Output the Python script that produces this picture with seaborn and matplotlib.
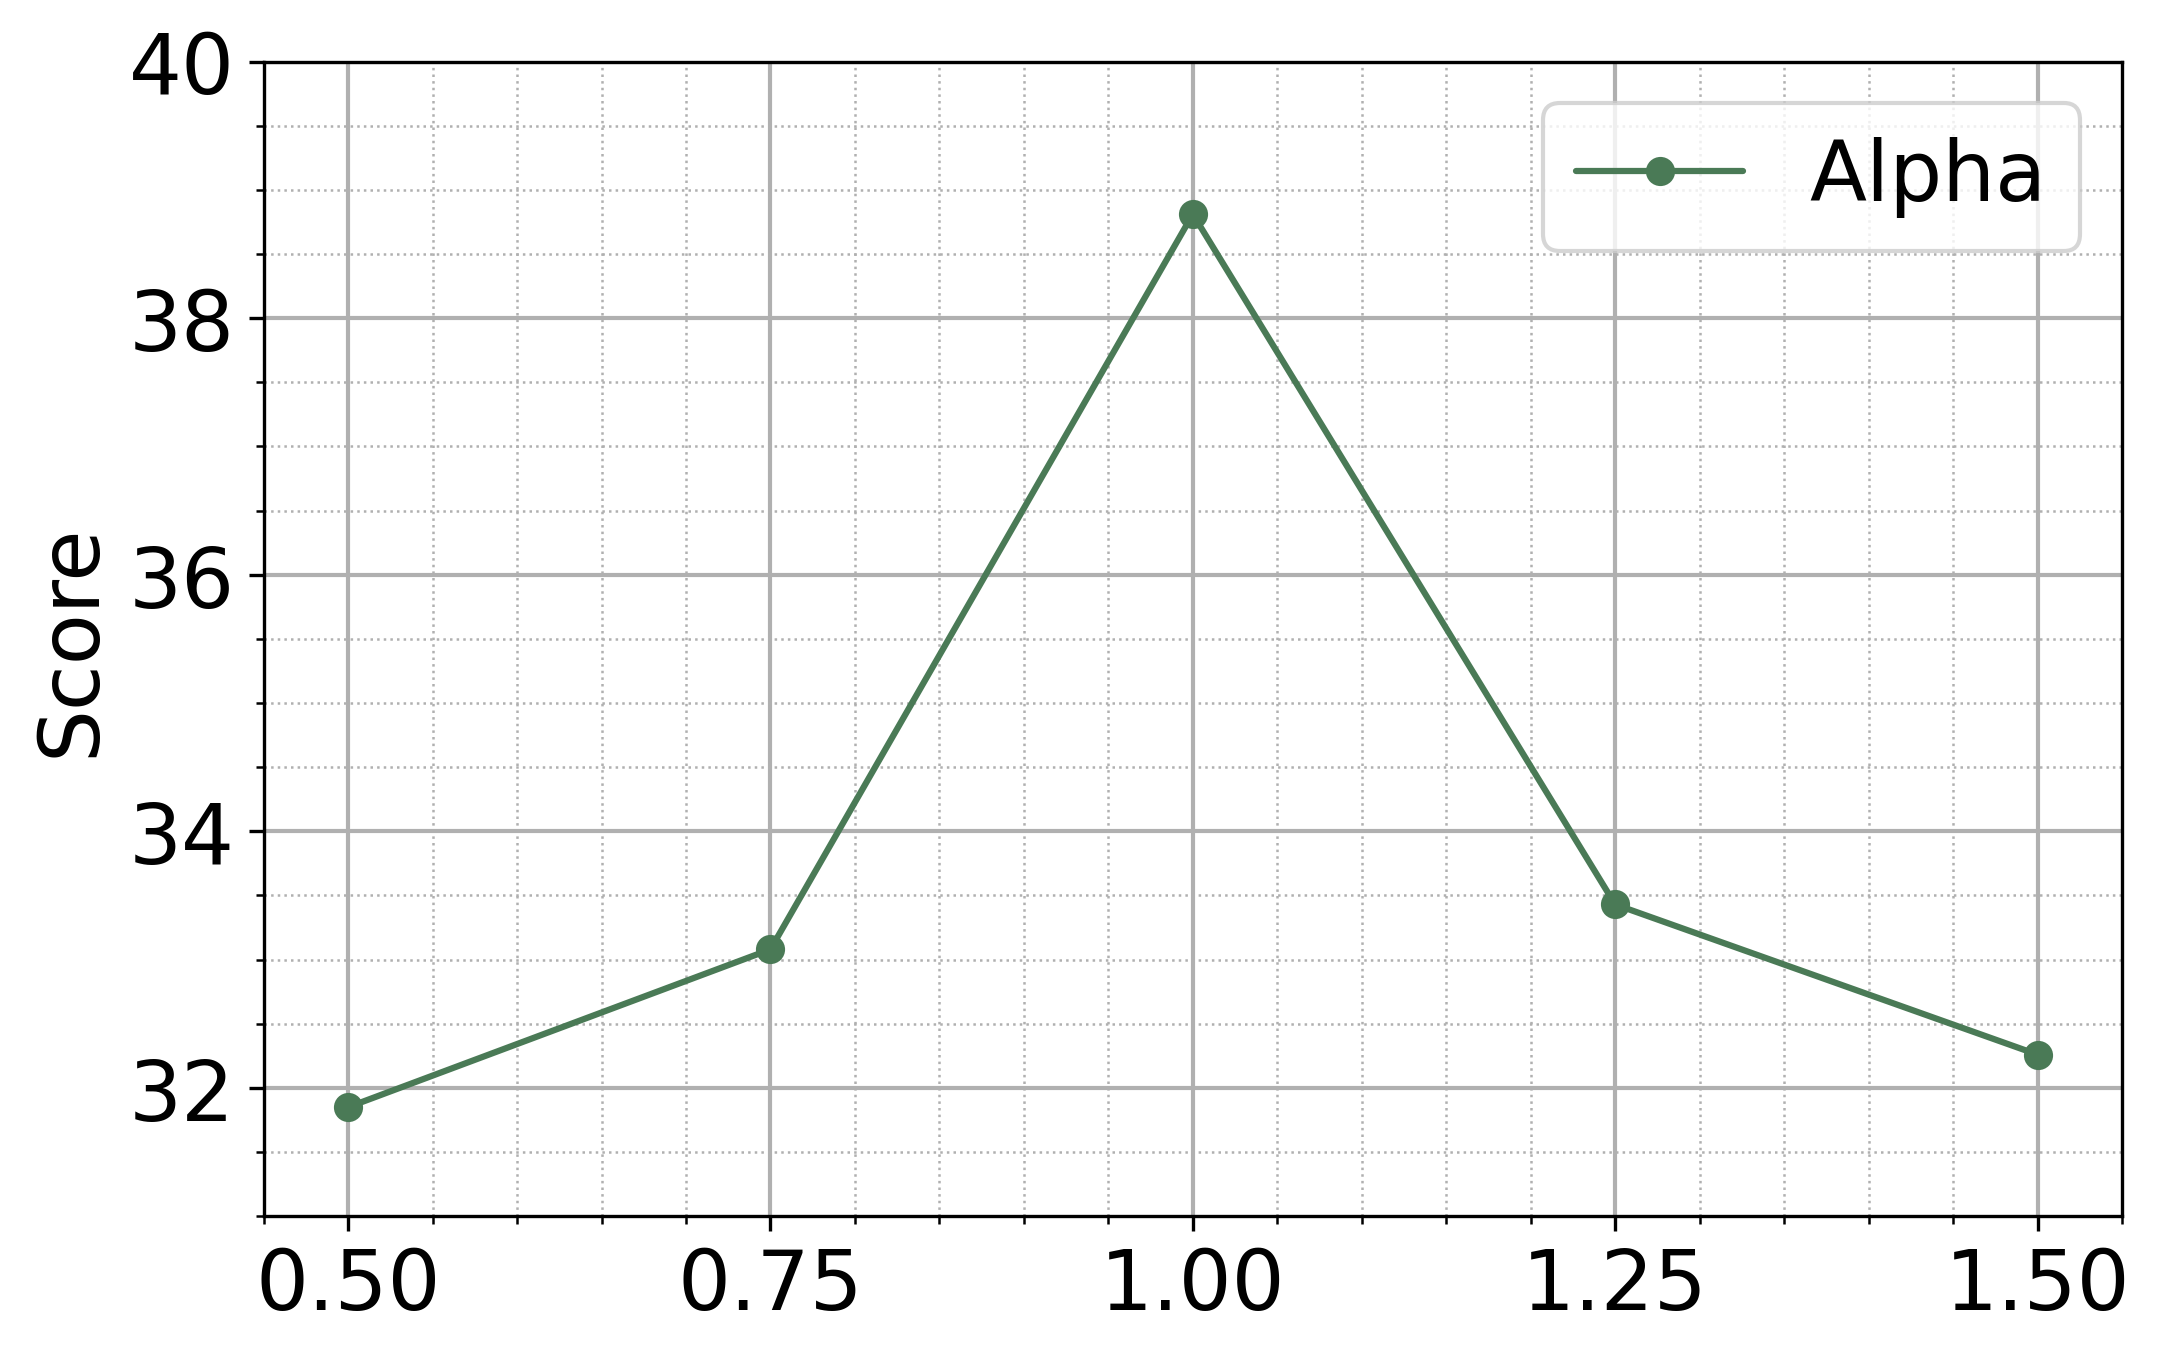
"""
Score versus scaling factor, single series line plot with markers
"""
import pandas as pd
import seaborn as sns
import matplotlib.pyplot as plt
from matplotlib.ticker import MultipleLocator

x_vals = [0.50, 0.75, 1.00, 1.25, 1.50]
alpha_scores = [31.85, 33.08, 38.81, 33.43, 32.26]

sns.set_style('ticks')
plt.rcParams['font.family'] = ['DejaVu Sans']
plt.rcParams['text.color'] = 'black'
plt.rcParams['axes.labelcolor'] = 'black'
plt.rcParams['xtick.color'] = 'black'
plt.rcParams['ytick.color'] = 'black'

df = pd.DataFrame({'x': x_vals, 'Score': alpha_scores, 'series': 'Alpha'})

fig, ax = plt.subplots(figsize=(7.203, 4.523), dpi=300)
sns.lineplot(data=df, x='x', y='Score', hue='series', palette=['#4a7a56'],
             marker='o', markersize=7, markeredgewidth=0, linewidth=1.5, ax=ax)

ax.set_xlim(0.45, 1.55)
ax.set_ylim(31, 40)
ax.xaxis.set_major_locator(MultipleLocator(0.25))
ax.xaxis.set_minor_locator(MultipleLocator(0.05))
ax.yaxis.set_major_locator(MultipleLocator(2))
ax.yaxis.set_minor_locator(MultipleLocator(0.5))
ax.grid(which='major', color='#b0b0b0', linewidth=1.0, linestyle='-')
ax.grid(which='minor', color='#b0b0b0', linewidth=0.6, linestyle=':')
ax.set_axisbelow(True)
for s in ax.spines.values():
    s.set_visible(True)
    s.set_color('black')
    s.set_linewidth(0.8)
ax.tick_params(which='major', labelsize=20, length=3.5, width=0.8, color='black',
               labelcolor='black')
ax.tick_params(which='minor', length=2, width=0.6, color='black')

ax.set_xlabel('')
ax.set_ylabel('Score', fontsize=20, color='black')
leg = ax.legend(title=None, fontsize=20, loc='upper right', framealpha=0.8)
for t in leg.get_texts():
    t.set_color('black')

plt.subplots_adjust(left=0.122, right=0.982, top=0.954, bottom=0.103)
plt.savefig('out.png', dpi=300)
